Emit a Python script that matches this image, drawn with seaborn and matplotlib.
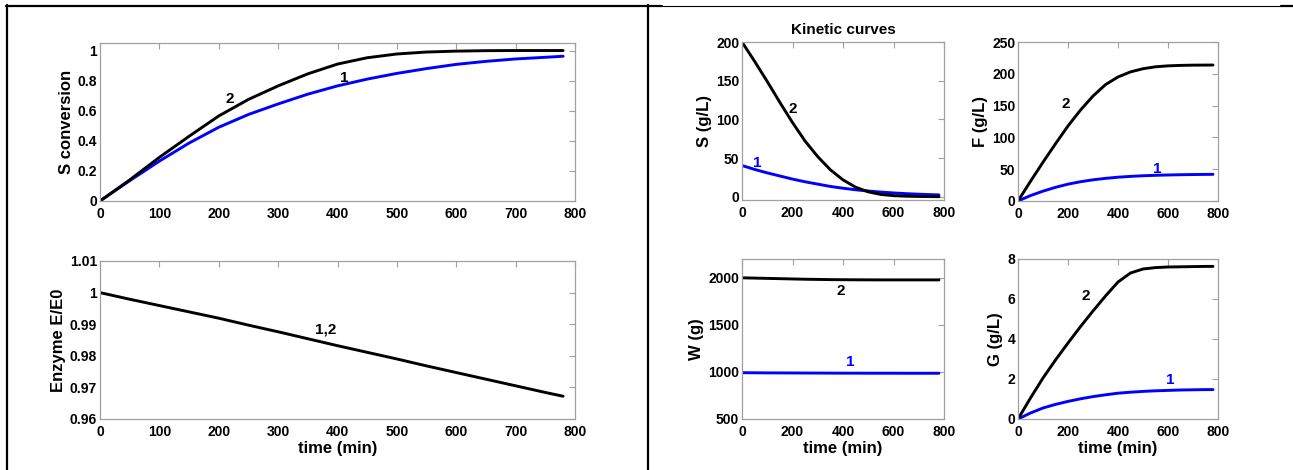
import matplotlib.pyplot as plt
import seaborn as sns
from matplotlib.lines import Line2D

# time grid (min)
time = [0, 50, 100, 150, 200, 250, 300, 350, 400, 450, 500, 550, 600, 650, 700, 750, 780]

# S conversion
conv_1 = [0, 0.135, 0.265, 0.385, 0.49, 0.575, 0.645, 0.71, 0.765, 0.81, 0.848, 0.88, 0.908, 0.928, 0.944, 0.955, 0.962]
conv_2 = [0, 0.14, 0.29, 0.43, 0.565, 0.675, 0.765, 0.845, 0.91, 0.952, 0.977, 0.99, 0.996, 0.999, 1.0, 1.0, 1.0]

# enzyme activity E/E0 (same for 1 and 2)
enzyme = [1.0, 0.9979, 0.9959, 0.9939, 0.9919, 0.9897, 0.9876, 0.9854, 0.9832, 0.9811, 0.979,
          0.9768, 0.9747, 0.9726, 0.9705, 0.9684, 0.9672]

# kinetic curves
s_1 = [40.5, 35.5, 31, 27, 23, 19.5, 16.5, 13.5, 11.2, 9.2, 7.6, 6.2, 5.1, 4.2, 3.5, 2.9, 2.6]
s_2 = [200, 175, 149, 122, 96, 72, 52, 35, 22, 12.5, 6.5, 3.2, 1.6, 0.9, 0.6, 0.4, 0.3]
f_1 = [0, 8.5, 15.5, 21.5, 26.5, 30.3, 33.3, 35.6, 37.4, 38.7, 39.7, 40.4, 40.9, 41.3, 41.6, 41.8, 41.9]
f_2 = [0, 31, 61, 90, 118, 143, 165, 183, 195, 203, 208, 211, 212.5, 213.2, 213.6, 213.7, 213.8]
w_1 = [992, 991, 990, 989.5, 989, 988.5, 988, 987.5, 987, 987, 986.5, 986.5, 986.5, 986, 986, 986, 986]
w_2 = [2000, 1997, 1994, 1991, 1988, 1985, 1983, 1981, 1980, 1979, 1978.5, 1978, 1978, 1978, 1978, 1978, 1978]
g_1 = [0, 0.3, 0.55, 0.73, 0.88, 1.01, 1.12, 1.21, 1.29, 1.34, 1.38, 1.41, 1.43, 1.45, 1.46, 1.47, 1.47]
g_2 = [0, 1.05, 2.05, 2.95, 3.8, 4.62, 5.4, 6.15, 6.85, 7.3, 7.5, 7.57, 7.6, 7.61, 7.62, 7.63, 7.63]

sns.set_theme(style="white")
plt.rcParams["font.family"] = ["Liberation Sans", "DejaVu Sans"]
plt.rcParams["font.weight"] = "bold"
plt.rcParams["text.color"] = "black"
plt.rcParams["axes.labelcolor"] = "black"

BLUE = "#0000ff"
FRAME = "#a0a0a0"
W, H = 1293, 470

fig = plt.figure(figsize=(W / 100, H / 100), dpi=100)


def box(left, top, right, bottom):
    # axes from pixel edges of the reference
    return fig.add_axes([left / W, 1 - bottom / H, (right - left) / W, (bottom - top) / H])


def style(ax, ylim, yticks, ylabel, xticks, xlabel=None):
    ax.set_xlim(0, 800)
    ax.set_ylim(*ylim)
    ax.set_xticks(xticks)
    ax.set_xticklabels([f"{v:g}" for v in xticks])
    ax.set_yticks(yticks)
    ax.set_yticklabels([f"{v:g}" for v in yticks])
    ax.tick_params(direction="in", length=4, width=0.8, color=FRAME, top=True, right=True,
                   labelsize=10, labelcolor="black")
    ax.tick_params(axis="x", pad=4)
    ax.tick_params(axis="y", pad=2)
    for sp in ax.spines.values():
        sp.set_visible(True)
        sp.set_color(FRAME)
        sp.set_linewidth(0.9)
    ax.set_ylabel(ylabel, fontsize=12, fontweight="bold", labelpad=3)
    ax.set_xlabel(xlabel if xlabel else "", fontsize=12, fontweight="bold", labelpad=2)


def curve(ax, y, color):
    sns.lineplot(x=time, y=y, color=color, lw=2.1, ax=ax, legend=False)


def note(ax, x, y, s, color="black"):
    ax.text(x, y, s, color=color, fontsize=11, fontweight="bold", ha="center", va="center")


# left column
ax = box(100, 43, 575, 201)
curve(ax, conv_1, BLUE)
curve(ax, conv_2, "black")
style(ax, (0, 1.05), [0, 0.2, 0.4, 0.6, 0.8, 1], "S conversion", list(range(0, 801, 100)))
note(ax, 219, 0.68, "2")
note(ax, 411, 0.82, "1")

ax = box(100, 261, 575, 419)
curve(ax, enzyme, "black")
style(ax, (0.96, 1.01), [0.96, 0.97, 0.98, 0.99, 1.0, 1.01], "Enzyme E/E0",
      list(range(0, 801, 100)), "time (min)")
note(ax, 380, 0.9882, "1,2")

# right column: kinetic curves
xt = [0, 200, 400, 600, 800]

ax = box(742, 42, 944, 200)
curve(ax, s_1, BLUE)
curve(ax, s_2, "black")
style(ax, (-4, 200), [0, 50, 100, 150, 200], "S (g/L)", xt)
ax.set_title("Kinetic curves", fontsize=11, fontweight="bold", pad=6)
note(ax, 202, 114, "2")
note(ax, 59, 44, "1", BLUE)

ax = box(1018, 42, 1218, 201)
curve(ax, f_1, BLUE)
curve(ax, f_2, "black")
style(ax, (0, 250), [0, 50, 100, 150, 200, 250], "F (g/L)", xt)
note(ax, 190, 153, "2")
note(ax, 555, 50, "1", BLUE)

ax = box(742, 259, 944, 419)
curve(ax, w_1, BLUE)
curve(ax, w_2, "black")
style(ax, (500, 2200), [500, 1000, 1500, 2000], "W (g)", xt, "time (min)")
note(ax, 392, 1858, "2")
note(ax, 428, 1106, "1", BLUE)

ax = box(1018, 259, 1218, 419)
curve(ax, g_1, BLUE)
curve(ax, g_2, "black")
style(ax, (0, 8), [0, 2, 4, 6, 8], "G (g/L)", xt, "time (min)")
note(ax, 269, 6.13, "2")
note(ax, 608, 1.93, "1", BLUE)


# surrounding table borders
def hline(y, x0, x1, lw):
    fig.add_artist(Line2D([x0 / W, x1 / W], [1 - y / H, 1 - y / H], transform=fig.transFigure,
                          color="black", lw=lw))


def vline(x, y0, y1, lw):
    fig.add_artist(Line2D([x / W, x / W], [1 - y0 / H, 1 - y1 / H], transform=fig.transFigure,
                          color="black", lw=lw))


hline(6, 6, 662, 1.6)
hline(6, 662, 1281, 0.8)
hline(6, 1281, 1293, 1.6)
vline(7, 5, 470, 1.6)
vline(648, 5, 470, 1.6)

fig.savefig("out.png", dpi=100)
